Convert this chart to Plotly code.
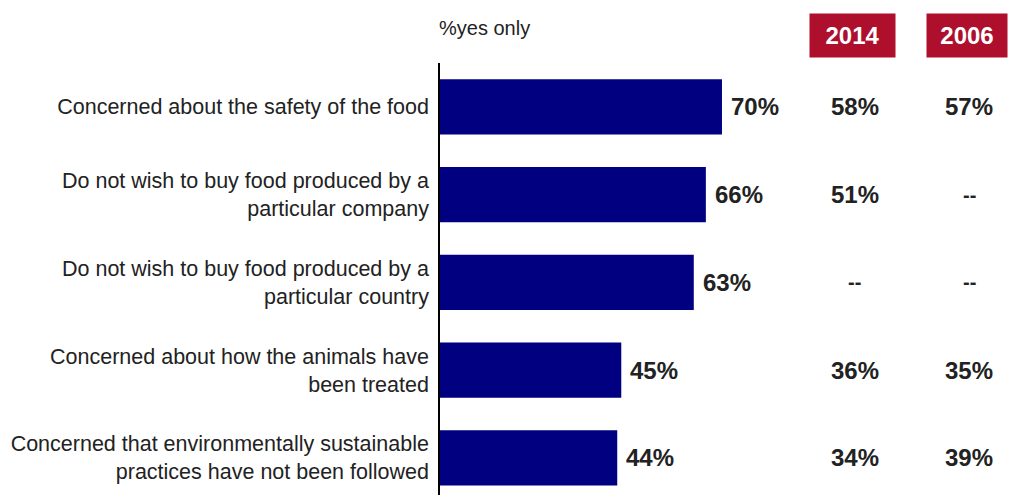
import plotly.graph_objects as go

# Survey reasons, share answering "yes"
categories = [
    "Concerned about the safety of the food",
    "Do not wish to buy food produced by a<br>particular company",
    "Do not wish to buy food produced by a<br>particular country",
    "Concerned about how the animals have<br>been treated",
    "Concerned that environmentally sustainable<br>practices have not been followed",
]
current_pct = [70, 66, 63, 45, 44]
pct_2014 = [58, 51, None, 36, 34]
pct_2006 = [57, None, None, 35, 39]
year_labels = ["2014", "2006"]

NAVY = "#000080"
CRIMSON = "#AE0F2D"
TEXT = "#222222"
FONT = "Liberation Sans"

rows = list(range(len(categories)))

fig = go.Figure()
fig.add_trace(go.Bar(
    x=current_pct,
    y=rows,
    orientation="h",
    width=0.627,
    marker=dict(color=NAVY, line=dict(width=0)),
    hoverinfo="skip",
))

annotations = []
# value at the end of each bar
for i, v in zip(rows, current_pct):
    annotations.append(dict(
        x=v, y=i, xref="x", yref="y", text=f"<b>{v}%</b>",
        xanchor="left", yanchor="middle", xshift=7, showarrow=False,
        font=dict(family=FONT, size=24, color=TEXT),
    ))

# comparison columns for earlier years
col_x = {"2014": 103.0, "2006": 131.4}
box_w = {"2014": 85, "2006": 80}
for year, series in zip(year_labels, [pct_2014, pct_2006]):
    for i, v in zip(rows, series):
        if v is not None:
            txt, size = f"<b>{v}%</b>", 24
        else:
            txt, size = "<b>--</b>", 20
        annotations.append(dict(
            x=col_x[year], y=i, xref="x", yref="y", text=txt,
            xanchor="center", yanchor="middle", showarrow=False,
            font=dict(family=FONT, size=size, color=TEXT),
        ))
    annotations.append(dict(
        x=col_x[year] - 0.6, y=1.0637, xref="x", yref="paper",
        text=f"<b>{year}</b>", xanchor="center", yanchor="middle",
        showarrow=False, bgcolor=CRIMSON, borderpad=0,
        width=box_w[year], height=43,
        font=dict(family=FONT, size=24, color="white"),
    ))

annotations.append(dict(
    x=-0.006, y=1.081, xref="paper", yref="paper", text="%yes only",
    xanchor="left", yanchor="middle", showarrow=False,
    font=dict(family=FONT, size=20, color=TEXT),
))

fig.update_layout(
    width=1010, height=495,
    margin=dict(l=440, r=0, t=63, b=0),
    paper_bgcolor="white", plot_bgcolor="white",
    showlegend=False,
    annotations=annotations,
    xaxis=dict(range=[0, 141.5], visible=False, showgrid=False, zeroline=False),
    yaxis=dict(
        range=[4.423, -0.5],
        tickvals=rows, ticktext=categories,
        showline=True, linecolor="black", linewidth=1.5,
        showgrid=False, zeroline=False, ticks="",
        ticklabelstandoff=5,
        tickfont=dict(family=FONT, size=21.5, color=TEXT),
    ),
)

fig.write_html("out.html")
